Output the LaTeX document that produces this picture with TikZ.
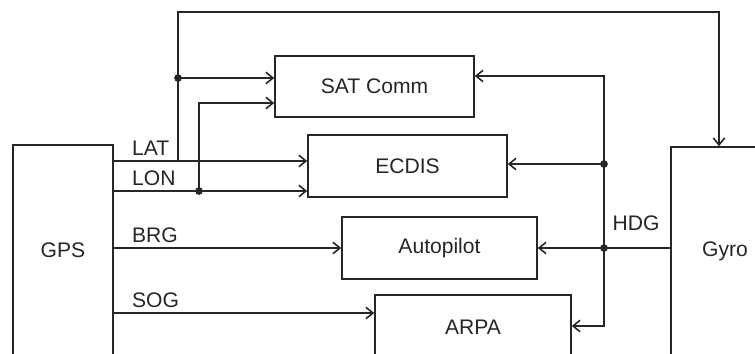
\documentclass[tikz,border=0pt]{standalone}
\usepackage{fontspec}
\setmainfont{Liberation Sans}
\usetikzlibrary{arrows.meta}

\tikzset{
    unit/.style={draw, rectangle, font=\fontsize{12}{14}\selectfont},
    sig/.style={font=\fontsize{12}{14}\selectfont, anchor=south west, inner sep=2.5pt, xshift=7.5pt},
    tag/.style={font=\fontsize{12}{14}\selectfont, inner sep=0pt},
}

\begin{document}
\begin{tikzpicture}[x=0.02cm, y=-0.02cm, line width=0.9pt, color=black!85, >={Straight Barb[length=4pt,width=6.5pt]}]
            \clip (0,0) rectangle (755,353);

            \node[unit, minimum width=2cm, minimum height=4.2cm] (gps) at (63,250) {GPS};
            \node[unit, minimum width=3.98cm, minimum height=1.22cm] (satcomm) at (374.5,86.5) {SAT Comm};
            \node[unit, minimum width=3.98cm, minimum height=1.24cm] (ecdis) at (407.5,166) {ECDIS};
            \node[unit, minimum width=3.9cm, minimum height=1.24cm] (autopilot) at (439.5,248) {Autopilot};
            \node[unit, minimum width=3.92cm, minimum height=1.3cm] (arpa) at (473,327.5) {ARPA};
            \node[unit, minimum width=2.16cm, minimum height=4.16cm] (gyro) at (725,251) {Gyro};
            \node[tag] (hdg) at (636,223) {HDG};

            \coordinate (latbus) at (178,161);
            \coordinate (lonbus) at (199,191);
            \coordinate (satA) at (178,78);
            \coordinate (satB) at (199,103);
            \coordinate (sogrow) at (0,313);
            \coordinate (overhead) at (719,12);
            \coordinate (hdgtop) at (604,76);
            \coordinate (hdgecdis) at (604,164);
            \coordinate (hdgbus) at (604,248);
            \coordinate (hdgbot) at (604,326);

            \draw[->] (gps.east |- latbus) -- node[sig, at start] {LAT} (ecdis.west |- latbus);
            \draw[->] (gps.east |- lonbus) -- node[sig, at start] {LON} (ecdis.west |- lonbus);
            \draw[->] (gps.east |- autopilot.west) -- node[sig, at start] {BRG} (autopilot.west);
            \draw[->] (gps.east |- sogrow) -- node[sig, at start] {SOG} (arpa.west |- sogrow);

            \draw[->] (latbus) |- (overhead) -- (overhead |- gyro.north);
            \draw[->] (satA) -- (satcomm.west |- satA);
            \draw[->] (lonbus) |- (satcomm.west |- satB);
            \fill (satA) circle (2.2pt);
            \fill (lonbus) circle (2.2pt);

            \draw[->] (gyro.west |- hdgbus) -- (autopilot.east |- hdgbus);
            \draw[<->] (satcomm.east |- hdgtop) -- (hdgtop) -- (hdgbot) -- (arpa.east |- hdgbot);
            \draw[->] (hdgecdis) -- (ecdis.east |- hdgecdis);
            \fill (hdgecdis) circle (2.2pt);
            \fill (hdgbus) circle (2.2pt);
        \end{tikzpicture}
\end{document}
